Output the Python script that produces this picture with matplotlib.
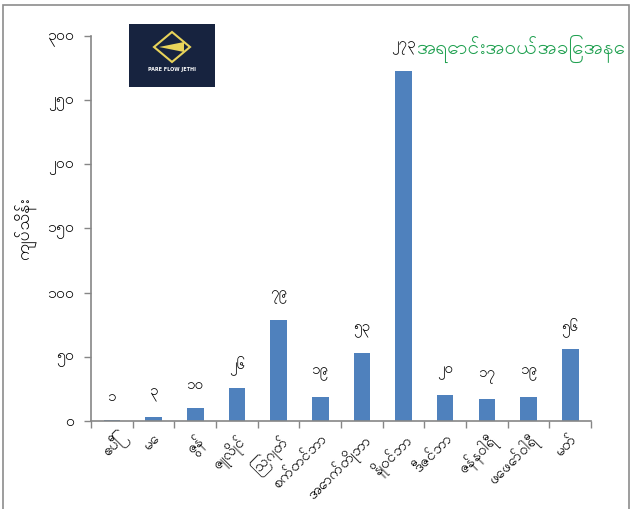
import matplotlib
matplotlib.use("Agg")
import matplotlib.pyplot as plt
from matplotlib import font_manager as fm
from matplotlib.patches import Rectangle, Polygon

# Myanmar font (google-fonts dir)
fp_path = "/usr/share/fonts/truetype/google-fonts/Padauk-Regular.ttf"
fm.fontManager.addfont(fp_path)
plt.rcParams['font.family'] = ['Padauk', 'DejaVu Sans']

months = ["ဧပြီ", "မေ", "ဇွန်", "ဇူလိုင်", "ဩဂုတ်", "စက်တင်ဘာ", "အောက်တိုဘာ",
          "နိုဝင်ဘာ", "ဒီဇင်ဘာ", "ဇန်နဝါရီ", "ဖေဖော်ဝါရီ", "မတ်"]
sales = [1, 3, 10, 26, 79, 19, 53, 273, 20, 17, 19, 56]
yticks = [0, 50, 100, 150, 200, 250, 300]
title = "အရောင်းအဝယ်အခြေအနေ"
ylabel = "ကျပ်သိန်း"

mm_digits = "၀၁၂၃၄၅၆၇၈၉"


def to_mm(n):
    return "".join(mm_digits[int(c)] for c in str(n))


fig = plt.figure(figsize=(6.4, 5.09), dpi=100)
ax = fig.add_axes([91 / 640, 1 - 421 / 509, 500 / 640, 385 / 509])

x = range(len(months))
bars = ax.bar(x, sales, width=0.4, color="#4f81bd")
for b, v in zip(bars, sales):
    ax.annotate(to_mm(v), (b.get_x() + b.get_width() / 2, v), xytext=(0, 16),
                textcoords="offset points", ha="center", va="center", fontsize=11)

ax.set_xlim(-0.5, len(months) - 0.5)
ax.set_ylim(0, 300)
ax.set_yticks(yticks)
ax.set_yticklabels([to_mm(t) for t in yticks], fontsize=11.5)
ax.set_xticks(list(x))
ax.set_xticklabels(months, rotation=45, ha="right", rotation_mode="anchor", fontsize=11)
ax.tick_params(axis="x", length=0, pad=8)
ax.set_xticks([i - 0.5 for i in range(len(months) + 1)], minor=True)
ax.tick_params(axis="x", which="minor", length=5, color="#868686", width=1)
ax.tick_params(axis="y", length=5, color="#868686", width=1, pad=7)
for s in ["top", "right"]:
    ax.spines[s].set_visible(False)
for s in ["left", "bottom"]:
    ax.spines[s].set_color("#868686")
    ax.spines[s].set_linewidth(1.2)
ax.set_ylabel(ylabel, fontsize=12.5, labelpad=8)

fig.text(417 / 640, 1 - 49 / 509, title, color="#22a152", fontsize=15, va="center", ha="left")

# logo box
fig.patches.append(Rectangle((129 / 640, 1 - 87 / 509), 86 / 640, 63 / 509,
                             transform=fig.transFigure, facecolor="#17233f", edgecolor="none"))
fig.patches.append(Polygon([(172 / 640, 1 - 32 / 509), (190 / 640, 1 - 47 / 509),
                            (172 / 640, 1 - 62 / 509), (154 / 640, 1 - 47 / 509)], closed=True,
                           transform=fig.transFigure, facecolor="none", edgecolor="#e8d35a", lw=1.5))
fig.patches.append(Polygon([(159 / 640, 1 - 47 / 509), (184 / 640, 1 - 42 / 509),
                            (184 / 640, 1 - 52 / 509)], closed=True,
                           transform=fig.transFigure, facecolor="#e8d35a", edgecolor="none"))
fig.text(172 / 640, 1 - 70 / 509, "PARE FLOW JETHI", color="white", fontsize=3.5,
         ha="center", va="center", family="DejaVu Sans", weight="bold")

# chart area border
fig.patches.append(Rectangle((3 / 640, -0.01), 626 / 640, 1.01 - 5 / 509,
                             transform=fig.transFigure, facecolor="none", edgecolor="#8c8c8c", lw=1.2))

fig.savefig("out.png")
